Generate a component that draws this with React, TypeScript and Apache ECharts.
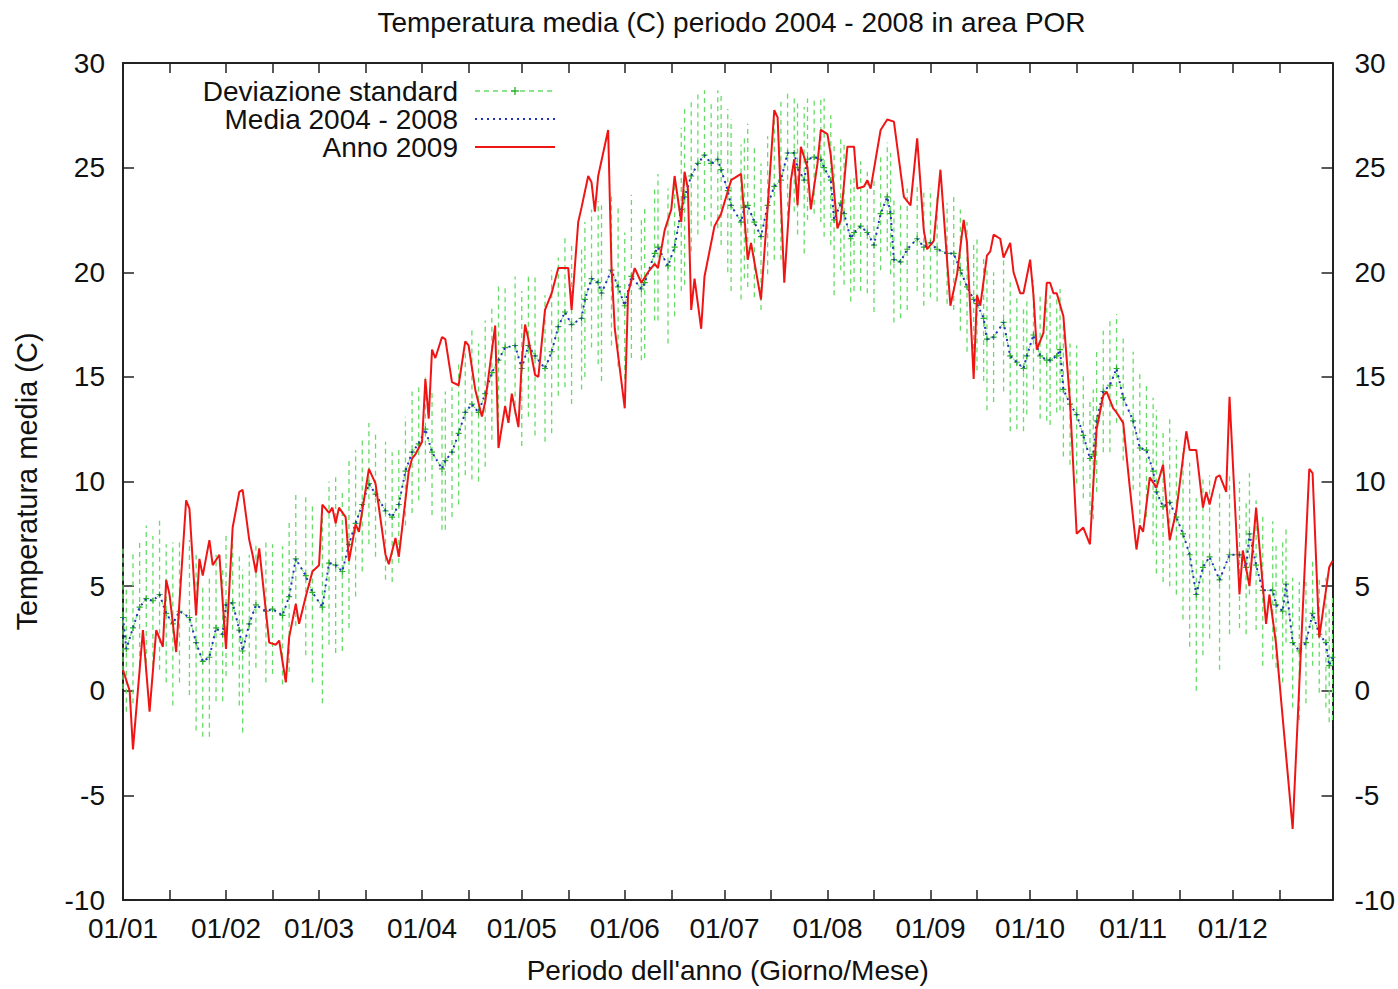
import React, { useEffect, useRef } from "react";
import * as echarts from "echarts";

// ---- axis / tick data ----
const monthStartDays = [0, 31, 59, 90, 120, 151, 181, 212, 243, 273, 304, 334];
const monthLabels = ["01/01", "01/02", "01/03", "01/04", "01/05", "01/06", "01/07", "01/08", "01/09", "01/10", "01/11", "01/12"];
const midMonthDays = [14, 45, 73, 104, 134, 165, 195, 226, 257, 287, 318, 348];

// ---- Media 2004 - 2008 (day of year, value) + standard deviation ----
const meanDays = [0, 1, 3, 5, 7, 9, 11, 13, 15, 17, 20, 22, 24, 26, 28, 30, 31, 33, 35, 36, 38, 40, 43, 45, 48, 50, 52, 55, 57, 60, 62, 64, 66, 68, 70, 72, 74, 76, 79, 81, 83, 85, 87, 89, 91, 93, 96, 97, 99, 101, 103, 105, 107, 109, 111, 113, 115, 118, 120, 122, 124, 127, 129, 131, 133, 135, 138, 139, 141, 143, 144, 147, 149, 151, 153, 156, 157, 160, 161, 164, 166, 168, 169, 171, 173, 175, 177, 179, 180, 182, 183, 186, 187, 188, 190, 192, 194, 196, 198, 200, 202, 203, 205, 206, 208, 210, 211, 213, 214, 216, 217, 219, 220, 222, 224, 226, 228, 230, 231, 232, 234, 236, 239, 241, 243, 245, 248, 250, 252, 254, 256, 257, 259, 260, 262, 265, 267, 269, 271, 272, 274, 276, 278, 279, 281, 282, 283, 285, 287, 289, 291, 292, 293, 295, 297, 299, 301, 304, 306, 308, 310, 311, 313, 315, 317, 319, 321, 323, 325, 327, 330, 333, 336, 338, 339, 341, 343, 346, 347, 349, 350, 352, 354, 356, 358, 360, 362, 363, 364];
const meanVals = [3.5, 2.0, 3.0, 4.0, 4.4, 4.3, 4.6, 3.7, 3.2, 3.8, 3.5, 2.3, 1.4, 1.6, 3.0, 2.7, 4.1, 4.2, 2.9, 1.9, 3.2, 4.1, 3.8, 3.9, 3.6, 4.5, 6.3, 5.5, 4.7, 4.0, 6.1, 6.0, 5.7, 7.0, 8.0, 8.9, 9.9, 9.4, 8.6, 8.3, 8.9, 10.5, 11.4, 11.8, 12.5, 11.4, 10.6, 11.0, 11.4, 12.3, 13.3, 13.7, 13.3, 14.2, 15.2, 15.8, 16.4, 16.5, 15.4, 16.5, 16.0, 15.4, 16.2, 17.4, 18.1, 17.5, 17.8, 18.7, 19.7, 19.5, 19.0, 20.1, 19.3, 18.4, 19.8, 19.2, 19.5, 20.9, 21.2, 20.3, 21.2, 23.0, 23.6, 24.6, 25.2, 25.6, 25.2, 25.4, 24.9, 23.9, 23.2, 22.4, 23.1, 23.2, 22.4, 21.7, 23.2, 24.1, 24.4, 25.7, 25.7, 25.0, 24.4, 25.4, 25.5, 25.4, 25.0, 24.4, 22.5, 23.3, 22.8, 21.6, 21.9, 22.2, 21.9, 21.3, 22.8, 23.6, 22.8, 20.6, 20.5, 21.1, 21.6, 21.2, 21.4, 21.1, 20.9, 20.9, 20.1, 19.3, 18.7, 18.5, 17.8, 16.8, 16.9, 17.6, 16.0, 15.7, 15.4, 16.0, 17.0, 16.0, 15.8, 15.8, 16.0, 16.3, 14.4, 13.7, 13.2, 12.2, 11.1, 11.3, 12.9, 14.3, 14.6, 15.4, 14.0, 12.9, 11.6, 11.5, 10.5, 9.5, 8.8, 9.0, 8.3, 7.5, 6.5, 4.6, 5.9, 6.4, 5.3, 6.5, 6.5, 5.9, 7.5, 6.0, 4.8, 4.8, 4.1, 3.8, 5.1, 2.3, 1.9, 2.3, 3.7, 2.7, 2.3, 1.2, 1.6];
const sdVals = [3.4, 3.0, 3.6, 3.2, 3.5, 3.1, 3.6, 3.3, 3.9, 3.4, 3.7, 4.2, 3.6, 3.8, 3.5, 3.2, 3.4, 3.0, 3.6, 3.9, 3.3, 3.0, 3.4, 3.1, 3.3, 3.6, 3.2, 3.8, 4.3, 4.6, 3.9, 4.2, 3.8, 4.0, 3.5, 3.2, 2.9, 3.0, 3.3, 3.1, 2.8, 2.6, 2.9, 2.7, 2.5, 3.0, 2.9, 3.3, 3.1, 3.4, 3.0, 3.6, 3.3, 3.5, 3.2, 3.6, 3.0, 3.3, 3.7, 3.4, 3.8, 3.5, 3.9, 3.3, 3.6, 3.8, 3.4, 3.7, 3.3, 3.9, 4.2, 3.6, 3.8, 3.5, 3.9, 3.4, 3.6, 3.2, 3.5, 3.7, 3.3, 3.9, 4.2, 3.6, 3.4, 3.1, 3.0, 3.3, 3.6, 3.9, 4.1, 3.7, 3.4, 3.9, 3.6, 3.5, 3.3, 3.5, 3.8, 3.0, 2.8, 3.2, 3.5, 2.9, 2.7, 3.0, 3.3, 3.1, 3.6, 3.2, 3.4, 3.0, 2.8, 3.1, 2.9, 3.2, 2.7, 2.6, 2.9, 3.0, 2.7, 2.9, 2.5, 2.8, 2.6, 2.5, 2.4, 2.7, 2.9, 3.1, 2.8, 3.2, 3.0, 3.4, 3.1, 3.3, 3.6, 3.2, 3.0, 2.8, 2.6, 3.0, 2.9, 3.1, 2.7, 2.9, 3.2, 2.9, 3.3, 3.0, 2.7, 3.1, 3.4, 2.9, 3.2, 2.6, 3.0, 3.3, 3.6, 3.2, 3.5, 3.9, 3.6, 4.0, 3.7, 4.1, 4.4, 4.6, 4.2, 3.9, 4.3, 3.8, 3.5, 3.2, 2.9, 3.1, 3.6, 3.3, 3.0, 3.4, 2.8, 3.1, 3.3, 2.9, 2.5, 2.8, 3.1, 2.7, 3.0];

// ---- Anno 2009 (day of year, value) ----
const redDays = [0, 2, 3, 6, 8, 10, 12, 13, 14, 16, 19, 20, 22, 23, 24, 26, 27, 29, 31, 33, 35, 36, 38, 39, 40, 41, 44, 46, 47, 49, 50, 52, 53, 55, 57, 59, 60, 62, 63, 64, 65, 67, 68, 70, 71, 74, 76, 79, 80, 82, 83, 86, 87, 88, 89, 90, 91, 92, 93, 94, 96, 97, 99, 101, 103, 104, 106, 108, 109, 112, 113, 115, 116, 117, 119, 120, 121, 122, 124, 125, 127, 129, 131, 134, 135, 137, 138, 140, 141, 142, 143, 146, 147, 148, 151, 152, 154, 156, 158, 160, 161, 163, 165, 166, 168, 169, 170, 171, 172, 174, 175, 177, 178, 180, 183, 186, 188, 189, 192, 194, 196, 197, 199, 201, 202, 203, 204, 206, 207, 209, 210, 212, 213, 215, 216, 218, 220, 221, 223, 224, 225, 228, 230, 232, 235, 237, 239, 241, 242, 244, 246, 249, 251, 253, 254, 256, 257, 258, 260, 261, 262, 264, 265, 267, 268, 270, 271, 273, 274, 275, 277, 278, 279, 280, 281, 283, 285, 287, 289, 291, 292, 293, 295, 296, 298, 299, 301, 303, 305, 306, 307, 309, 311, 313, 315, 317, 320, 321, 323, 325, 326, 327, 329, 330, 332, 333, 336, 337, 339, 341, 344, 345, 347, 352, 357, 358, 360, 363, 364];
const redVals = [1.0, 0.0, -2.8, 2.9, -1.0, 2.9, 2.1, 5.3, 4.6, 1.85, 9.1, 8.7, 3.6, 6.3, 5.5, 7.2, 6.0, 6.5, 2.0, 7.8, 9.5, 9.6, 7.2, 6.5, 5.65, 6.8, 2.3, 2.2, 2.4, 0.4, 2.55, 4.15, 3.2, 4.5, 5.7, 6.0, 8.9, 8.5, 8.75, 8.0, 8.75, 8.3, 6.2, 7.95, 7.6, 10.6, 9.9, 6.5, 6.05, 7.3, 6.4, 10.5, 11.1, 11.3, 11.6, 11.9, 14.9, 13.0, 16.3, 15.9, 16.9, 16.8, 14.75, 14.6, 16.7, 16.5, 14.4, 13.1, 13.8, 17.45, 11.6, 13.6, 12.8, 14.2, 12.6, 15.7, 17.5, 16.8, 15.1, 15.0, 18.2, 19.0, 20.2, 20.2, 18.2, 22.4, 23.1, 24.6, 24.3, 22.9, 24.6, 26.8, 20.3, 17.3, 13.5, 19.0, 20.2, 19.5, 20.0, 20.4, 20.2, 22.0, 23.0, 24.6, 22.4, 24.8, 24.0, 18.2, 19.7, 17.3, 19.8, 21.4, 22.2, 22.8, 24.4, 24.7, 20.6, 21.4, 18.7, 23.1, 27.75, 27.4, 19.5, 24.4, 25.4, 23.2, 26.0, 25.0, 23.0, 25.2, 26.8, 26.6, 25.6, 22.1, 22.5, 26.0, 26.0, 24.0, 24.1, 24.4, 24.0, 26.8, 27.3, 27.2, 23.6, 23.2, 26.4, 22.0, 21.1, 21.5, 24.9, 18.4, 19.9, 22.5, 21.4, 14.9, 18.9, 18.4, 20.8, 21.0, 21.8, 21.6, 20.7, 21.4, 20.0, 19.0, 19.0, 20.6, 18.9, 16.3, 17.1, 19.5, 19.5, 19.0, 19.0, 17.9, 13.8, 7.5, 7.8, 7.0, 9.85, 12.5, 14.1, 14.3, 13.5, 13.3, 12.8, 9.7, 6.75, 7.9, 7.6, 10.2, 9.7, 10.8, 7.2, 8.6, 12.4, 11.5, 11.5, 8.75, 9.5, 8.9, 10.2, 10.3, 9.5, 14.05, 4.6, 6.7, 5.0, 8.75, 3.2, 4.6, 2.25, -6.6, 10.6, 10.4, 2.55, 5.9, 6.2];

const legendNames = ["Deviazione standard", "Media 2004 - 2008", "Anno 2009"];
const titleText = "Temperatura media (C) periodo 2004 - 2008 in area POR";
const xAxisTitle = "Periodo dell'anno (Giorno/Mese)";
const yAxisTitle = "Temperatura media (C)";

const FONT = "'Liberation Sans', Arial, Helvetica, sans-serif";
const FS = 28;
const TEXT_COLOR = "#111";
const AXIS_COLOR = "#222";
const GREEN_BAR = "#66dd66";
const GREEN_PT = "#2bb02b";
const BLUE = "#2233bb";
const RED = "#f01515";

export default function App() {
  const ref = useRef<HTMLDivElement>(null);

  useEffect(() => {
    if (!ref.current) return;
    const chart = echarts.init(ref.current, null, { renderer: "svg" });

    const errData = meanDays.map((d, i) => [d, meanVals[i], sdVals[i]]);
    const meanData = meanDays.map((d, i) => [d, meanVals[i]]);
    const redData = redDays.map((d, i) => [d, redVals[i]]);
    const allTicks = [...monthStartDays, ...midMonthDays].sort((a, b) => a - b);

    const xAxisCommon = {
      type: "value",
      min: 0,
      max: 364,
      axisLine: { show: true, onZero: false, lineStyle: { color: AXIS_COLOR, width: 2 } },
      axisTick: { show: true, inside: true, length: 10, customValues: allTicks, lineStyle: { color: AXIS_COLOR, width: 1.5 } },
      splitLine: { show: false },
    };
    const yAxisCommon = {
      type: "value",
      min: -10,
      max: 30,
      interval: 5,
      axisLine: { show: true, onZero: false, lineStyle: { color: AXIS_COLOR, width: 2 } },
      axisTick: { show: true, inside: true, length: 11, lineStyle: { color: AXIS_COLOR, width: 1.5 } },
      splitLine: { show: false },
    };

    const plusPath = "path://M4,0h2v4h4v2h-4v4h-2v-4h-4v-2h4z";
    const legendRight = 458;
    const legendRows = [91, 119, 147];
    const sampleX1 = 475;
    const sampleX2 = 555;

    chart.setOption({
      animation: false,
      backgroundColor: "#ffffff",
      grid: { left: 123, right: 58, top: 63, bottom: 84, containLabel: false },
      xAxis: [
        {
          ...xAxisCommon,
          position: "bottom",
          name: xAxisTitle,
          nameLocation: "middle",
          nameGap: 56,
          nameTextStyle: { fontSize: FS, color: TEXT_COLOR, fontFamily: FONT },
          axisLabel: {
            customValues: monthStartDays,
            formatter: (v: number) => {
              const idx = monthStartDays.indexOf(Math.round(v));
              return idx >= 0 ? monthLabels[idx] : "";
            },
            fontSize: FS,
            color: TEXT_COLOR,
            fontFamily: FONT,
            margin: 14,
          },
        },
        {
          ...xAxisCommon,
          position: "top",
          axisLabel: { show: false },
        },
      ],
      yAxis: [
        {
          ...yAxisCommon,
          position: "left",
          name: yAxisTitle,
          nameLocation: "middle",
          nameGap: 82,
          nameRotate: 90,
          nameTextStyle: { fontSize: 29, color: TEXT_COLOR, fontFamily: FONT },
          axisLabel: { fontSize: FS, color: TEXT_COLOR, fontFamily: FONT, margin: 18 },
        },
        {
          ...yAxisCommon,
          position: "right",
          axisLabel: { fontSize: FS, color: TEXT_COLOR, fontFamily: FONT, margin: 22 },
        },
      ],
      graphic: [
        {
          type: "text",
          x: 731.5,
          y: 22,
          style: { text: titleText, font: `${FS}px ${FONT}`, fill: TEXT_COLOR, textAlign: "center", textVerticalAlign: "middle" },
        },
        ...legendNames.map((name, i) => ({
          type: "text",
          x: legendRight,
          y: legendRows[i],
          style: { text: name, font: `${FS}px ${FONT}`, fill: TEXT_COLOR, textAlign: "right", textVerticalAlign: "middle" },
        })),
        {
          type: "line",
          shape: { x1: sampleX1, y1: legendRows[0], x2: sampleX2, y2: legendRows[0] },
          style: { stroke: GREEN_BAR, lineWidth: 1.3, lineDash: [5, 4] },
        },
        {
          type: "line",
          shape: { x1: 511, y1: legendRows[0], x2: 519, y2: legendRows[0] },
          style: { stroke: GREEN_PT, lineWidth: 1.3 },
        },
        {
          type: "line",
          shape: { x1: 515, y1: legendRows[0] - 4, x2: 515, y2: legendRows[0] + 4 },
          style: { stroke: GREEN_PT, lineWidth: 1.3 },
        },
        {
          type: "line",
          shape: { x1: sampleX1, y1: legendRows[1], x2: sampleX2, y2: legendRows[1] },
          style: { stroke: BLUE, lineWidth: 2, lineDash: [2, 4] },
        },
        {
          type: "line",
          shape: { x1: sampleX1, y1: legendRows[2], x2: sampleX2, y2: legendRows[2] },
          style: { stroke: RED, lineWidth: 2 },
        },
      ],
      series: [
        {
          name: legendNames[0],
          type: "custom",
          silent: true,
          z: 1,
          data: errData,
          encode: { x: 0, y: [1] },
          renderItem: (_params: any, api: any) => {
            const d = api.value(0);
            const m = api.value(1);
            const s = api.value(2);
            const lo = api.coord([d, m - s]);
            const hi = api.coord([d, m + s]);
            return {
              type: "line",
              shape: { x1: lo[0], y1: lo[1], x2: hi[0], y2: hi[1] },
              style: { stroke: GREEN_BAR, lineWidth: 1.3, lineDash: [5, 4] },
            };
          },
        },
        {
          name: legendNames[0] + " (media)",
          type: "line",
          z: 2,
          silent: true,
          data: meanData,
          symbol: plusPath,
          symbolSize: 6,
          showSymbol: true,
          itemStyle: { color: GREEN_PT },
          lineStyle: { color: GREEN_BAR, width: 1, type: [5, 4] },
        },
        {
          name: legendNames[1],
          type: "line",
          z: 3,
          silent: true,
          data: meanData,
          symbol: "none",
          lineStyle: { color: BLUE, width: 2, type: [2, 4] },
        },
        {
          name: legendNames[2],
          type: "line",
          z: 4,
          silent: true,
          data: redData,
          symbol: "none",
          lineStyle: { color: RED, width: 2 },
        },
      ],
    });

    return () => chart.dispose();
  }, []);

  return (
    <div
      ref={ref}
      style={{ position: "fixed", left: 0, top: 0, width: 1398, height: 989, background: "#fff" }}
    />
  );
}
